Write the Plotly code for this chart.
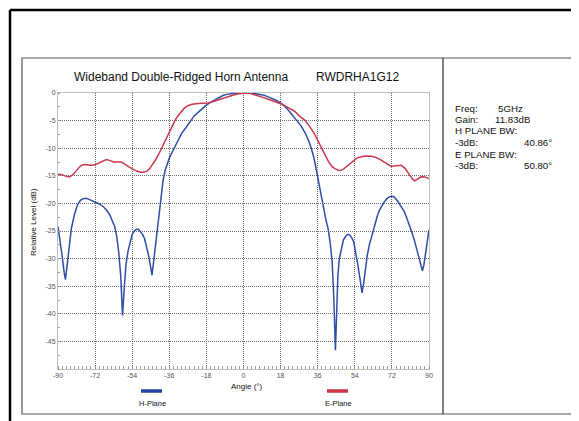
import plotly.graph_objects as go

# ---- data ----
h_angle = [-90, -89, -88, -87, -86.4, -85.5, -84.5, -83.5, -82, -80.5, -79, -77.5, -76, -74, -72,
           -70, -68, -66.5, -65, -63.5, -62.5, -61.5, -60.5, -59.5, -58.7, -57.8, -57, -56, -55,
           -54, -53, -52, -51, -50, -49, -48, -47, -46, -45, -44.4, -43.6, -43, -42.3, -41.5,
           -40.8, -40, -39, -38, -37, -36, -35, -34, -33, -32, -31, -30, -28, -26, -24, -22, -20,
           -18, -16, -14, -12, -10, -8, -6, -4, -2, 0, 2, 4, 6, 8, 10, 12, 14, 16, 18, 20, 22, 24,
           26, 28, 30, 32, 33, 34, 35, 36, 37, 38, 39, 40, 41, 42, 43, 43.8, 44.6, 45.2, 45.8,
           46.5, 47.5, 48.5, 49.5, 50.5, 51.5, 52.5, 53.5, 54.5, 55.5, 56.5, 57.5, 58.3, 59, 60,
           61, 62, 63, 64, 65, 66, 67, 68, 69, 70, 71, 72, 73, 74, 75, 76, 77, 78, 79, 80, 81, 82,
           83, 84, 85, 86, 86.8, 87.5, 88.3, 89.2, 90]
h_level = [-24.2, -26.5, -29.5, -32.5, -33.8, -31, -27.5, -24.5, -22, -20.2, -19.4, -19.1, -19.1,
           -19.4, -19.7, -20.1, -20.6, -21.2, -22, -23.2, -24.2, -26, -29, -33.5, -40.3, -35, -31,
           -28.6, -26.9, -25.6, -25, -24.7, -24.7, -25.1, -25.6, -26.4, -27.8, -29.5, -31.6, -33.0,
           -30.5, -28.5, -26.5, -24.0, -21, -18.4, -15.8, -14, -12.8, -11.8, -11.0, -10.2, -9.4,
           -8.6, -7.9, -7.3, -6.3, -5.2, -4.2, -3.5, -2.8, -2.2, -1.7, -1.3, -0.8, -0.45, -0.25,
           -0.12, -0.05, 0, 0, 0, -0.05, -0.15, -0.25, -0.4, -0.7, -1.0, -1.35, -1.8, -2.4, -3.2,
           -4.1, -5.1, -6.0, -7.3, -9.0, -10.2, -11.5, -13.3, -15.3, -17.5, -19.5, -21.3, -23.0,
           -24.5, -27, -30.5, -37, -46.6, -40, -33, -30, -28, -26.6, -26, -25.6, -25.7, -26.2, -27,
           -28.8, -31.2, -33.6, -36.2, -34.5, -32, -29.5, -27.6, -26.2, -24.8, -23.4, -22.2, -21.2,
           -20.5, -19.9, -19.4, -19, -18.8, -18.7, -18.8, -19.2, -19.7, -20.3, -20.9, -21.5, -22.4,
           -23.4, -24.4, -25.6, -26.8, -28.2, -29.8, -31.4, -32.2, -31.2, -29.3, -27, -24.8]

e_angle = [-90, -88, -86, -84.4, -83, -81, -79, -77.5, -76, -74, -72, -70, -68, -66.5, -65, -63,
           -61, -59.3, -58, -56, -54, -52, -50, -48.8, -47, -45.5, -44, -42.5, -41, -39.5, -38,
           -36.7, -35, -33.4, -32, -30.5, -28.6, -27, -25, -22, -20, -17.3, -15, -12, -9, -6, -3,
           -1, 1.5, 3, 5, 7, 9, 11, 13, 15, 18, 20, 22.4, 24.8, 27.2, 29.7, 32, 34.6, 37, 39.4,
           41.5, 43, 44.3, 46, 47, 48.5, 50.7, 53, 55, 57.2, 59, 62, 64.5, 67, 69.5, 71.7, 74,
           76.6, 78.5, 80.6, 82, 83.1, 84.5, 86.3, 88, 90]
e_level = [-14.7, -14.8, -15.1, -15.2, -14.9, -14.0, -13.2, -12.95, -13.0, -13.1, -13.0, -12.6,
           -12.25, -12.05, -12.2, -12.5, -12.5, -12.5, -12.8, -13.3, -13.75, -14.1, -14.35, -14.35,
           -14.2, -13.7, -12.9, -12, -11, -9.8, -8.6, -7.5, -6.2, -5.1, -4.2, -3.5, -2.7, -2.3,
           -2.05, -1.9, -1.85, -1.8, -1.6, -1.2, -0.85, -0.5, -0.2, -0.05, 0, -0.05, -0.25, -0.5,
           -0.75, -1.0, -1.25, -1.5, -1.95, -2.3, -2.8, -3.3, -4.2, -4.9, -6, -7.5, -9.3, -11.1,
           -12.6, -13.3, -13.7, -14.0, -14.05, -13.8, -13.1, -12.3, -11.8, -11.55, -11.4, -11.45,
           -11.7, -12.2, -12.8, -13.3, -13.2, -13.1, -13.7, -14.8, -15.6, -15.9, -15.6, -15.15,
           -15.2, -15.5]

x_ticks = [-90, -72, -54, -36, -18, 0, 18, 36, 54, 72, 90]
y_ticks = [0, -5, -10, -15, -20, -25, -30, -35, -40, -45]

title_left = "Wideband Double-Ridged Horn Antenna"
title_right = "RWDRHA1G12"
info_labels = ["Freq:", "Gain:", "H PLANE BW:", "-3dB:", "E PLANE BW:", "-3dB:"]
info_values = ["5GHz", "11.83dB", "", "40.86°", "", "50.80°"]

# ---- geometry helpers (page pixels; the page body adds an 8px offset) ----
OFF = 8
W, H = 579 - OFF, 421 - OFF
PL, PR, PT, PB = 58, 429, 93, 369          # plot area in page pixels
L, T = PL - OFF, PT - OFF
R, B = W - (PR - OFF), H - (PB - OFF)
PW, PH = W - L - R, H - T - B


def px(x):
    return (x - OFF - L) / PW


def py(y):
    return (H - B - (y - OFF)) / PH


FONT = "Liberation Sans, Arial, sans-serif"
BLUE = "#2f4ea6"
RED = "#c93a4f"

fig = go.Figure()
fig.add_trace(go.Scatter(x=h_angle, y=h_level, mode="lines", name="H-Plane",
                         line=dict(color=BLUE, width=1.5)))
fig.add_trace(go.Scatter(x=e_angle, y=e_level, mode="lines", name="E-Plane",
                         line=dict(color=RED, width=1.5)))

axis_common = dict(showgrid=True, gridcolor="#6e6e6e", griddash="1px,1px", gridwidth=1,
                   showline=True, linecolor="#c0c0c0", linewidth=1, mirror=True,
                   zeroline=False, ticks="",
                   tickfont=dict(family=FONT, size=7, color="#555"))

fig.update_xaxes(range=[-90, 90], tickvals=x_ticks, ticktext=[str(v) for v in x_ticks],
                 minor=dict(dtick=2, ticks="inside", ticklen=3, tickcolor="#9a9a9a", showgrid=False),
                 **axis_common)
fig.update_yaxes(range=[-50, 0], tickvals=y_ticks, ticktext=[str(v) for v in y_ticks],
                 minor=dict(dtick=2.5, ticks="inside", ticklen=2, tickcolor="#9a9a9a", showgrid=False),
                 **axis_common)

shapes = []
# outer thick frame (top and left)
shapes.append(dict(type="line", xref="paper", yref="paper", x0=px(10), x1=px(590), y0=py(10), y1=py(10),
                   line=dict(color="black", width=2.5)))
shapes.append(dict(type="line", xref="paper", yref="paper", x0=px(10), x1=px(10), y0=py(10), y1=py(430),
                   line=dict(color="black", width=2.5)))
# inner box
shapes.append(dict(type="rect", xref="paper", yref="paper", x0=px(22), x1=px(577), y0=py(58), y1=py(414),
                   line=dict(color="#555", width=1.2)))
# divider
shapes.append(dict(type="line", xref="paper", yref="paper", x0=px(443), x1=px(443), y0=py(58), y1=py(414),
                   line=dict(color="#555", width=1.5)))
# legend swatches
shapes.append(dict(type="line", xref="paper", yref="paper", x0=px(141), x1=px(162), y0=py(391), y1=py(391),
                   line=dict(color="#2244aa", width=3.5)))
shapes.append(dict(type="line", xref="paper", yref="paper", x0=px(327), x1=px(348), y0=py(391), y1=py(391),
                   line=dict(color="#cc3344", width=3.5)))

ann = []
ann.append(dict(text=title_left, x=px(181), y=py(77), xref="paper", yref="paper", showarrow=False,
                font=dict(family=FONT, size=12, color="#111"), xanchor="center", yanchor="middle"))
ann.append(dict(text=title_right, x=px(357), y=py(77), xref="paper", yref="paper", showarrow=False,
                font=dict(family=FONT, size=12, color="#111"), xanchor="center", yanchor="middle"))
ann.append(dict(text="Relative Level (dB)", x=px(33), y=py(222), xref="paper", yref="paper",
                showarrow=False, textangle=-90,
                font=dict(family=FONT, size=8, color="#111"), xanchor="center", yanchor="middle"))
ann.append(dict(text="Angle (°)", x=px(247), y=py(386), xref="paper", yref="paper", showarrow=False,
                font=dict(family=FONT, size=8, color="#111"), xanchor="center", yanchor="middle"))
ann.append(dict(text="H-Plane", x=px(152), y=py(403), xref="paper", yref="paper", showarrow=False,
                font=dict(family=FONT, size=7.5, color="#111"), xanchor="center", yanchor="middle"))
ann.append(dict(text="E-Plane", x=px(338), y=py(403), xref="paper", yref="paper", showarrow=False,
                font=dict(family=FONT, size=7.5, color="#111"), xanchor="center", yanchor="middle"))

info_y = [108, 119.5, 131, 142.5, 154, 165.7]
value_x = [496, 493, 0, 522, 0, 522]
for lab, val, yy, vx in zip(info_labels, info_values, info_y, value_x):
    ann.append(dict(text=lab, x=px(453), y=py(yy), xref="paper", yref="paper", showarrow=False,
                    font=dict(family=FONT, size=9.7, color="#111"), xanchor="left", yanchor="middle"))
    if val:
        ann.append(dict(text=val, x=px(vx), y=py(yy), xref="paper", yref="paper", showarrow=False,
                        font=dict(family=FONT, size=9.7, color="#111"), xanchor="left", yanchor="middle"))

fig.update_layout(width=W, height=H, margin=dict(l=L, r=R, t=T, b=B, pad=0),
                  paper_bgcolor="white", plot_bgcolor="white", showlegend=False,
                  shapes=shapes, annotations=ann)

fig.write_html("out.html")
